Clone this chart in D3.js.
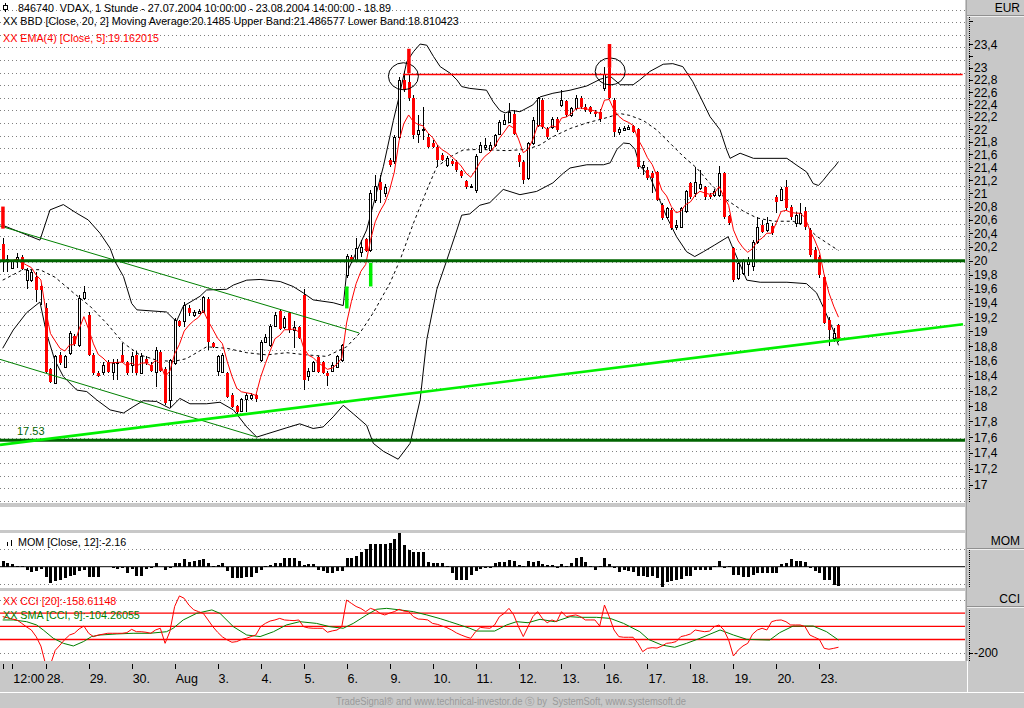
<!DOCTYPE html>
<html>
<head>
<meta charset="utf-8">
<script src="https://cdnjs.cloudflare.com/ajax/libs/d3/7.8.5/d3.min.js"></script>
<style>
html, body { margin: 0; padding: 0; background: #c8c8c8; }
svg { display: block; }
text { font-family: 'Liberation Sans', Arial, sans-serif; white-space: pre; }
.ax { font-family: 'Liberation Sans Narrow', 'Arial Narrow', 'Liberation Sans', sans-serif; }
</style>
</head>
<body>
<div id="chart"></div>
<script>
// VDAX hourly candles, 27.07.2004 10:00 - 23.08.2004 14:00 (9 bars a day, 10:00-18:00)
const opens = [
  20.25,19.99,19.90,20.00,20.05,19.72,19.72,19.76,19.63,19.33,
  18.49,18.31,18.68,18.52,18.70,18.94,18.81,19.46,19.23,18.68,
  18.44,18.45,18.59,18.45,18.57,18.68,18.58,18.54,18.68,18.44,
  18.63,18.54,18.45,18.72,18.49,18.08,18.57,19.14,19.14,19.33,
  19.23,19.26,19.27,19.45,18.84,18.47,18.45,18.43,18.15,18.00,
  17.94,18.09,18.11,18.14,18.61,18.86,18.81,19.08,19.29,19.06,
  19.25,19.02,19.06,19.51,18.39,18.47,18.65,18.58,18.44,18.47,
  18.52,18.61,19.80,20.06,20.01,20.12,20.31,20.16,20.90,21.17,
  21.00,21.52,21.50,21.88,22.80,22.77,22.50,21.93,21.99,21.88,
  21.78,21.72,21.59,21.44,21.50,21.49,21.34,21.19,21.10,21.05,
  21.64,21.72,21.67,21.75,21.93,22.09,22.12,22.25,21.59,21.49,
  21.23,21.78,22.07,22.47,22.01,22.04,22.17,22.39,22.45,22.23,
  22.34,22.50,22.36,22.36,22.28,22.28,22.66,23.00,22.47,21.96,
  21.99,22.00,22.05,22.00,21.40,21.36,21.31,21.33,20.82,20.65,
  20.75,20.50,20.50,20.73,21.16,21.00,21.08,21.10,20.98,20.98,
  20.98,21.31,20.66,20.18,19.75,19.82,19.95,19.92,20.28,20.53,
  20.45,20.51,20.95,20.90,21.10,20.80,20.55,20.55,20.73,20.45,
  20.15,20.06,19.77,19.16,18.91,19.09
];
const highs = [
  20.33,20.08,20.01,20.11,20.08,19.90,19.86,19.84,19.68,19.39,
  18.50,18.68,18.72,18.68,19.00,18.97,19.51,19.64,19.27,18.70,
  18.46,18.59,18.61,18.63,18.63,18.84,18.60,18.72,18.73,18.70,
  18.66,18.58,18.79,18.75,18.52,18.63,19.18,19.16,19.41,19.37,
  19.30,19.31,19.50,19.48,18.86,18.68,18.70,18.45,18.17,18.02,
  18.11,18.17,18.17,18.16,18.88,18.96,19.10,19.27,19.31,19.22,
  19.27,19.14,19.08,19.59,18.50,18.60,18.67,18.60,18.47,18.58,
  18.68,18.83,20.09,20.08,20.33,20.30,20.33,21.05,21.28,21.28,
  21.15,21.55,21.91,22.85,22.95,22.90,22.55,22.23,22.36,21.93,
  21.83,21.75,21.62,21.57,21.53,21.51,21.36,21.21,21.15,21.60,
  21.80,21.86,21.80,21.93,22.15,22.25,22.42,22.30,21.62,21.52,
  21.80,22.20,22.52,22.50,22.03,22.20,22.20,22.64,22.47,22.36,
  22.55,22.53,22.40,22.38,22.31,22.32,23.02,23.03,22.50,22.04,
  22.05,22.06,22.07,22.02,21.50,21.40,21.35,21.35,20.85,20.80,
  20.78,20.60,20.80,21.05,21.18,21.40,21.36,21.12,21.00,21.06,
  21.42,21.33,20.68,20.20,20.00,20.02,20.05,20.30,20.65,20.60,
  20.65,20.55,20.98,21.10,21.20,20.83,20.72,20.85,20.80,20.48,
  20.20,20.08,19.80,19.20,19.05,19.10
];
const lows = [
  19.83,19.83,19.88,19.89,19.86,19.60,19.70,19.41,19.37,18.43,
  18.30,18.30,18.55,18.50,18.68,18.80,18.79,19.44,18.66,18.41,
  18.38,18.41,18.43,18.35,18.35,18.57,18.41,18.43,18.41,18.42,
  18.55,18.45,18.25,18.45,18.02,17.97,18.55,19.06,19.06,19.22,
  19.20,19.24,19.25,18.75,18.77,18.39,18.43,18.10,17.97,17.90,
  17.92,17.92,18.08,18.05,18.58,18.84,18.79,19.06,19.02,19.04,
  18.98,18.77,18.89,18.21,18.33,18.45,18.43,18.42,18.27,18.45,
  18.50,18.59,19.75,19.98,19.98,20.05,20.12,20.12,20.85,20.85,
  20.95,21.40,21.45,21.85,22.60,22.45,21.85,21.78,21.83,21.70,
  21.70,21.41,21.50,21.40,21.42,21.33,21.24,21.07,21.08,21.00,
  21.62,21.67,21.65,21.72,21.90,22.07,22.10,21.90,21.40,21.15,
  21.20,21.75,22.04,22.00,21.85,22.00,21.96,22.36,22.20,22.20,
  22.30,22.33,22.28,22.25,22.20,22.12,22.62,22.48,21.88,21.90,
  21.97,21.98,21.94,21.38,21.28,21.20,21.00,20.88,20.60,20.62,
  20.45,20.45,20.48,20.70,20.92,20.95,21.05,20.90,20.92,20.95,
  20.95,20.62,20.52,19.70,19.72,19.80,19.78,19.85,20.25,20.40,
  20.42,20.38,20.70,20.88,20.75,20.60,20.50,20.52,20.45,20.05,
  19.98,19.75,19.10,18.80,18.85,18.85
];
const closes = [
  20.00,20.02,19.99,20.06,19.88,19.86,19.83,19.58,19.58,18.45,
  18.32,18.66,18.57,18.66,18.98,18.83,19.46,19.55,18.68,18.43,
  18.40,18.54,18.45,18.57,18.59,18.59,18.43,18.66,18.43,18.66,
  18.57,18.47,18.75,18.47,18.04,18.61,19.16,19.08,19.37,19.25,
  19.27,19.29,19.48,18.86,18.79,18.67,18.68,18.12,17.99,17.92,
  18.09,18.15,18.14,18.09,18.86,18.93,19.08,19.23,19.04,19.18,
  19.02,19.06,18.91,18.35,18.47,18.58,18.45,18.44,18.39,18.54,
  18.66,18.81,20.07,20.01,20.18,20.20,20.14,21.00,21.12,21.05,
  21.10,21.44,21.88,22.80,22.64,22.50,21.90,21.99,22.01,21.72,
  21.72,21.52,21.52,21.54,21.45,21.36,21.26,21.09,21.12,21.57,
  21.75,21.75,21.75,21.91,22.12,22.15,22.28,21.93,21.49,21.20,
  21.78,22.15,22.50,22.04,21.88,22.17,21.99,22.47,22.23,22.34,
  22.50,22.36,22.31,22.28,22.25,22.17,22.90,22.50,21.96,22.01,
  22.02,22.04,21.96,21.41,21.44,21.23,21.23,20.90,20.63,20.78,
  20.48,20.52,20.78,21.03,20.95,21.18,21.15,20.95,20.95,21.03,
  21.31,20.65,20.55,19.72,19.96,19.99,19.99,20.28,20.50,20.42,
  20.55,20.40,20.87,21.06,20.78,20.65,20.68,20.70,20.50,20.08,
  20.01,19.80,19.12,19.02,18.98,18.89
];

// Bollinger bands [bar, price]
const bbUpper = [[0,20.52],[7.8,20.3],[9.9,20.75],[12.7,20.83],[15.5,20.7],[17.9,20.6],[20.4,20.4],[22.5,20.18],[23.5,19.99],[25.3,19.77],[27,19.39],[28.1,19.3],[34.3,19.27],[35.7,19.18],[36.4,19.14],[37.8,19.35],[41.3,19.49],[42.7,19.58],[46.9,19.59],[48.3,19.65],[51.1,19.72],[53.9,19.73],[58.1,19.7],[60.8,19.63],[62.9,19.54],[65,19.44],[69.2,19.4],[71.3,19.36],[72,19.82],[76.2,20.45],[79.7,21.41],[81.8,22.14],[82.8,22.46],[84.6,23.1],[86,23.27],[87.4,23.4],[88.8,23.38],[90.2,23.19],[91.6,23.02],[93.7,22.91],[95.1,22.8],[96.1,22.69],[97.8,22.66],[101.3,22.63],[102.7,22.44],[104.1,22.3],[105.2,22.26],[106.6,22.3],[108.3,22.28],[111,22.39],[112.5,22.52],[115.2,22.58],[118.8,22.63],[122.3,22.7],[125.1,22.81],[127.2,22.86],[129.3,22.72],[132,22.72],[133.4,22.8],[135.5,22.94],[138.3,23.06],[140.3,23.07],[142.4,23.02],[144.5,22.77],[146.4,22.47],[148.1,22.2],[150.2,21.99],[151.6,21.67],[152.3,21.54],[154.4,21.62],[157.2,21.54],[164.2,21.54],[166.3,21.43],[168.3,21.33],[169.7,21.15],[170.8,21.12],[171.8,21.2],[173.2,21.33],[174.3,21.42],[175,21.49]];
const bbMiddle = [[0,19.72],[4.2,19.87],[7.8,19.87],[11,19.76],[14.8,19.54],[18.3,19.35],[21.8,19.11],[25.3,18.84],[28.7,18.68],[32.2,18.61],[35.7,18.59],[38.5,18.63],[42.7,18.79],[46.9,18.77],[51.1,18.71],[55.3,18.68],[59.5,18.71],[63.7,18.68],[67.8,18.66],[72,18.79],[74.8,18.98],[77.6,19.26],[81.1,19.68],[83.2,20.01],[86,20.55],[88.8,21.05],[90.9,21.41],[94.3,21.59],[96.4,21.67],[99.9,21.68],[105.5,21.66],[109.7,21.68],[112.5,21.75],[115.2,21.88],[118.8,22.01],[122.3,22.1],[125.8,22.17],[129.3,22.25],[131.3,22.22],[134.1,22.14],[136.9,21.99],[139.7,21.78],[142.5,21.57],[145.3,21.39],[148.1,21.15],[151.6,20.9],[155.1,20.73],[157.9,20.63],[161.4,20.58],[165.5,20.58],[168.3,20.5],[170.4,20.36],[173.2,20.23],[175,20.15]];
const bbLower = [[0,18.77],[2.2,19.02],[5,19.26],[7.8,19.41],[9.2,18.97],[10.9,18.61],[12.7,18.39],[15.5,18.21],[17.6,18.19],[19.7,18.08],[22.5,17.95],[25.3,17.91],[27.3,17.99],[29.4,18.07],[32.2,18.06],[35,17.97],[37.1,18.1],[39.2,18.03],[42.7,18.03],[45.5,18.05],[48.3,17.95],[51.1,17.73],[53.2,17.6],[55.3,17.64],[59.5,17.72],[62.2,17.77],[65,17.71],[67.1,17.73],[69.2,17.86],[71.3,18.01],[73.4,17.9],[76.2,17.75],[77.6,17.52],[79.7,17.42],[82.8,17.32],[85.3,17.52],[87.4,18.08],[88.8,18.89],[90.9,19.59],[93,20.01],[95.1,20.45],[96.1,20.67],[97.8,20.69],[99.9,20.82],[102,20.86],[104.8,21.06],[108.3,20.98],[111.8,21.03],[115.2,21.16],[117.4,21.31],[118.8,21.39],[122.3,21.44],[125.8,21.44],[127.2,21.47],[128.6,21.68],[130,21.78],[131.3,21.77],[132.4,21.68],[133.4,21.42],[135.5,21.26],[139,20.65],[141.1,20.35],[143.2,20.13],[144.9,20.06],[146.7,20.13],[149.1,20.23],[151.9,20.35],[152.6,20.23],[155.8,19.72],[158.6,19.69],[164.2,19.69],[168.3,19.67],[170.4,19.54],[171.8,19.34],[173.9,19.02],[175,18.81]];

// Momentum (12) per bar
const momentum = [
  0.64,0.38,0.27,0.05,0.03,-0.38,-0.57,-0.45,-0.30,-1.21,
  -1.82,-1.59,-1.52,-1.33,-1.06,-0.95,-0.45,-0.38,-1.21,-1.21,
  -1.21,-0.05,-0.05,-0.19,-0.23,-0.11,-0.68,-0.30,-1.06,-1.06,
  -0.23,-0.11,0.38,-0.03,-0.38,-0.19,0.45,0.45,0.83,0.53,
  0.68,0.76,0.83,0.38,0.03,0.19,0.38,-0.45,-1.33,-1.33,
  -1.33,-1.14,-1.14,-0.68,-0.38,0.03,0.19,0.45,0.45,0.95,
  0.95,0.95,0.64,0.19,0.30,0.30,-0.38,-0.45,-0.68,-0.76,
  -0.45,-0.45,1.02,1.02,1.21,1.70,1.97,2.58,2.58,2.58,
  2.58,2.73,3.10,3.86,2.46,1.89,1.70,1.70,1.70,0.57,
  0.45,0.45,0.38,0.05,-0.68,-1.52,-1.52,-1.52,-0.95,-0.45,
  -0.27,-0.11,-0.11,0.45,0.49,0.49,0.76,0.68,0.19,0.03,
  0.68,0.57,0.68,0.30,0.23,0.19,-0.19,0.30,0.08,0.38,
  1.02,1.14,0.57,0.03,-0.38,0.03,1.02,0.30,-0.11,-0.57,
  -0.38,-0.49,-0.64,-1.02,-1.02,-1.14,-1.06,-1.33,-2.27,-1.74,
  -1.63,-1.52,-1.44,-1.06,-1.06,-0.38,-0.38,-0.38,-0.38,0.03,
  0.64,-0.19,0.03,-0.95,-0.95,-1.14,-1.14,-0.95,-0.68,-0.68,
  -0.68,-0.68,-0.68,0.30,0.38,0.83,0.68,0.64,0.49,-0.19,
  -0.49,-0.68,-1.52,-1.52,-2.08,-2.16
];

// CCI (20) per bar
const cci = [
  73,65,55,48,22,-5,-28,-78,-150,-290,
  -290,-182,-142,-100,-66,-53,-20,2,-53,-78,
  -66,-60,-53,-53,-53,-53,-48,-23,-41,-41,
  -45,-53,-28,-15,-129,-40,150,230,212,160,
  125,111,98,48,-3,-45,-80,-103,-121,-116,
  -100,-91,-78,-66,-3,22,40,48,60,48,
  45,43,48,-3,-12,-15,-15,-15,-45,-35,
  -28,-3,199,174,150,135,111,136,124,98,
  86,100,111,129,115,111,73,55,53,48,
  22,15,2,-10,-28,-50,-66,-80,-91,-41,
  -8,-12,-15,10,73,98,136,86,-3,-78,
  -3,73,111,60,27,48,35,111,73,80,
  86,73,48,48,48,2,161,73,-28,-78,
  -83,-83,-83,-129,-192,-167,-162,-165,-150,-129,
  -125,-116,-78,-70,-58,-28,-35,-41,-36,-3,
  10,-28,-104,-225,-180,-149,-129,-60,-28,-15,
  -28,35,45,48,35,10,10,10,-3,-66,
  -83,-100,-167,-174,-167,-158.6
];
// SMA (9) of the CCI, [bar, value]
const cciSma = [[0,48],[2.2,48],[5,35],[7.1,10],[8.5,-28],[10.6,-91],[12.7,-129],[14.8,-149],[16.9,-116],[18.6,-78],[20.4,-66],[23.9,-58],[27.3,-53],[30.8,-53],[34.3,-41],[35.7,-15],[37.8,48],[40.6,98],[43.8,124],[45.5,98],[48.3,-3],[51.1,-66],[53.9,-78],[56.7,-41],[59.4,10],[62.2,35],[65.7,22],[68.5,-3],[71.3,-15],[73.4,22],[76.2,86],[78.3,129],[80.4,136],[83.2,124],[86,111],[88.8,86],[91.6,58],[93.6,35],[95.7,10],[97.8,-15],[99.2,-36],[103,-36],[105.5,10],[107.6,35],[110,27],[112.5,53],[115.6,35],[118.8,73],[120.8,68],[124.3,68],[127.2,60],[130,22],[133.4,-41],[135.2,-99],[138,-142],[140.7,-159],[143.2,-129],[146,-91],[150.2,-28],[153,-66],[155.8,-99],[160.6,-104],[162.7,-48],[165.5,2],[169.7,2],[172.5,-41],[175,-104.3]];

// drawing tools on the price chart
const levelPrices = [20.0, 17.56];
const resistance = {from: 83.8, to: 201, price: 22.89};
const channelLines = [[[-0.57, 20.51], [74.6, 18.98]], [[-0.57, 18.62], [53.2, 17.6]]];
const supportLine = [[-0.57, 17.5], [201.07, 19.1]];
const circleBars = [83.9, 127.2];
const circlePrices = [22.86, 22.94];
const signalBars = [0, 85, 127, 72, 77];
const signalTop = [20.8, 23.32, 23.4, 19.63, 19.97];
const signalBottom = [20.47, 22.91, 23.0, 19.32, 19.63];
const signalBuy = [false, false, false, true, true];

// axis labels
const priceTicks = [23.8, 23.4, 23.2, 23, 22.8, 22.6, 22.4, 22.2, 22, 21.8, 21.6, 21.4, 21.2, 21, 20.8, 20.6, 20.4, 20.2, 20, 19.8, 19.6, 19.4, 19.2, 19, 18.8, 18.6, 18.4, 18.2, 18, 17.8, 17.6, 17.4, 17.2, 17];
const unlabeledTicks = [23.8, 23.2];
const dayBars = [0, 2, 9, 18, 27, 36, 45, 54, 63, 72, 81, 90, 99, 108, 117, 126, 135, 144, 153, 162, 171];
const dayLabels = ['', '12:00', '28.', '29.', '30.', 'Aug', '3.', '4.', '5.', '6.', '9.', '10.', '11.', '12.', '13.', '16.', '17.', '18.', '19.', '20.', '23.'];

const W = 1024, H = 708, plotW = 965;
const RED = '#ff0000', DKGREEN = '#006400', GREEN = '#008000', LIME = '#00f000';

const xs = d3.scaleLinear().domain([0, 201.07]).range([2.7, 963]);
const ys = d3.scaleLog().domain([16.779, 24.159]).range([503, 0]);
const ym = d3.scaleLinear().domain([-2.42, 3.83]).range([588, 533]);
const yc = d3.scaleLinear().domain([-262.9, 267.4]).range([661, 591]);

const svg = d3.select('#chart').append('svg')
  .attr('width', W).attr('height', H);

svg.append('rect').attr('width', W).attr('height', H).attr('fill', '#c8c8c8');

const defs = svg.append('defs');
defs.append('clipPath').attr('id', 'clipMain')
  .append('rect').attr('x', 0).attr('y', 0).attr('width', plotW).attr('height', 503);
defs.append('clipPath').attr('id', 'clipCci')
  .append('rect').attr('x', 0).attr('y', 591).attr('width', plotW).attr('height', 70);

// panels
[[0, 503], [507, 23], [533, 55], [591, 70]].forEach(p => {
  svg.append('rect').attr('x', 0).attr('y', p[0]).attr('width', plotW).attr('height', p[1]).attr('fill', '#fff');
});
svg.append('line').attr('x1', 966.5).attr('x2', 966.5).attr('y1', 0).attr('y2', 661)
  .attr('stroke', '#a0a0a0');
svg.append('line').attr('x1', 0).attr('x2', W).attr('y1', 692.5).attr('y2', 692.5)
  .attr('stroke', '#fff');
svg.append('line').attr('x1', 967.5).attr('x2', 967.5).attr('y1', 661).attr('y2', 692)
  .attr('stroke', '#fff');

// header boxes in the right column
[[0, 'EUR'], [533, 'MOM'], [591, 'CCI']].forEach(h => {
  svg.append('line').attr('x1', 967).attr('x2', W).attr('y1', h[0] + 15.5).attr('y2', h[0] + 15.5).attr('stroke', '#909090');
  svg.append('line').attr('x1', 967).attr('x2', W).attr('y1', h[0] + 16.5).attr('y2', h[0] + 16.5).attr('stroke', '#f0f0f0');
  svg.append('text').attr('class', 'ax').attr('x', 1020).attr('y', h[0] + 12)
    .attr('text-anchor', 'end').attr('font-size', 12).text(h[1]);
});

// ---------- price panel ----------
const main = svg.append('g').attr('clip-path', 'url(#clipMain)');

main.append('g').selectAll('line')
  .data(d3.range(9.5, 502, 12.6))
  .join('line')
  .attr('x1', 0).attr('x2', plotW)
  .attr('y1', d => Math.round(d) + 0.5).attr('y2', d => Math.round(d) + 0.5)
  .attr('stroke', '#808080').attr('stroke-dasharray', '1,3');

const priceLine = d3.line().x(d => xs(d[0])).y(d => ys(d[1]));

main.append('path').attr('d', priceLine(bbUpper)).attr('fill', 'none').attr('stroke', '#000');
main.append('path').attr('d', priceLine(bbLower)).attr('fill', 'none').attr('stroke', '#000');
main.append('path').attr('d', priceLine(bbMiddle)).attr('fill', 'none').attr('stroke', '#000')
  .attr('stroke-dasharray', '3,3');

// candles
const candles = closes.map((c, i) => ({i, o: opens[i], h: highs[i], l: lows[i], c}));
const cg = main.append('g').attr('shape-rendering', 'crispEdges');
cg.selectAll('line').data(candles).join('line')
  .attr('x1', d => Math.round(xs(d.i)) + 0.5).attr('x2', d => Math.round(xs(d.i)) + 0.5)
  .attr('y1', d => ys(d.h)).attr('y2', d => ys(d.l))
  .attr('stroke', '#000');
cg.selectAll('rect').data(candles).join('rect')
  .attr('x', d => d.c >= d.o ? Math.round(xs(d.i)) - 0.5 : Math.round(xs(d.i)) - 1)
  .attr('y', d => Math.round(ys(Math.max(d.o, d.c))) + (d.c >= d.o ? 0.5 : 0))
  .attr('width', d => d.c >= d.o ? 2 : 3)
  .attr('height', d => Math.max(1, Math.round(ys(Math.min(d.o, d.c))) - Math.round(ys(Math.max(d.o, d.c)))))
  .attr('fill', d => d.c >= d.o ? '#fff' : RED)
  .attr('stroke', d => d.c >= d.o ? '#000' : 'none');

// EMA of the closes, period 5
const ema = [];
closes.forEach((c, i) => ema.push(i === 0 ? c : ema[i - 1] + (c - ema[i - 1]) * 2 / 6));
main.append('path').attr('d', priceLine(ema.map((v, i) => [i, v])))
  .attr('fill', 'none').attr('stroke', RED);

// drawing tools
levelPrices.forEach(p => {
  main.append('line').attr('x1', 0).attr('x2', plotW).attr('y1', ys(p)).attr('y2', ys(p))
    .attr('stroke', DKGREEN).attr('stroke-width', 3);
});
channelLines.forEach(l => {
  main.append('path').attr('d', priceLine(l)).attr('stroke', GREEN).attr('fill', 'none');
});
main.append('path').attr('d', priceLine(supportLine)).attr('stroke', LIME)
  .attr('stroke-width', 2.7).attr('fill', 'none');
main.append('line')
  .attr('x1', xs(resistance.from)).attr('x2', xs(resistance.to))
  .attr('y1', ys(resistance.price)).attr('y2', ys(resistance.price))
  .attr('stroke', RED).attr('stroke-width', 1.5);

circleBars.forEach((b, k) => {
  main.append('ellipse').attr('cx', xs(b)).attr('cy', ys(circlePrices[k]))
    .attr('rx', 15).attr('ry', 13.5).attr('fill', 'none').attr('stroke', '#000');
});

signalBars.forEach((b, k) => {
  main.append('rect')
    .attr('x', xs(b) - 1.5).attr('width', 3.5)
    .attr('y', ys(signalTop[k])).attr('height', ys(signalBottom[k]) - ys(signalTop[k]))
    .attr('fill', signalBuy[k] ? LIME : RED);
});

main.append('text').attr('x', 17).attr('y', ys(levelPrices[1]) - 5)
  .attr('font-size', 11).attr('fill', DKGREEN).text('17.53');

// title lines
const icon = svg.append('g').attr('shape-rendering', 'crispEdges');
icon.append('line').attr('x1', 5.5).attr('x2', 5.5).attr('y1', 3).attr('y2', 12).attr('stroke', '#000');
icon.append('rect').attr('x', 3.5).attr('y', 5.5).attr('width', 4).attr('height', 4)
  .attr('fill', '#fff').attr('stroke', '#000');
svg.append('text').attr('x', 18).attr('y', 11.5).attr('font-size', 10.75)
  .text('846740  VDAX, 1 Stunde - 27.07.2004 10:00:00 - 23.08.2004 14:00:00 - 18.89');
svg.append('text').attr('x', 3).attr('y', 24.5).attr('font-size', 10.75)
  .text('XX BBD [Close, 20, 2] Moving Average:20.1485 Upper Band:21.486577 Lower Band:18.810423');
svg.append('text').attr('x', 3).attr('y', 41.5).attr('font-size', 10.75).attr('fill', RED)
  .text('XX EMA(4) [Close, 5]:19.162015');

// price axis
const pa = svg.append('g');
pa.append('line').attr('x1', 969.5).attr('x2', 969.5).attr('y1', 17).attr('y2', 503)
  .attr('stroke', '#000').attr('stroke-dasharray', '1,1');
pa.selectAll('line.t').data(priceTicks).join('line').attr('class', 't')
  .attr('x1', 969).attr('x2', 973)
  .attr('y1', d => Math.round(ys(d)) + 0.5).attr('y2', d => Math.round(ys(d)) + 0.5)
  .attr('stroke', '#000');
pa.selectAll('text').data(priceTicks.filter(d => !unlabeledTicks.includes(d))).join('text')
  .attr('class', 'ax').attr('x', 974).attr('y', d => ys(d) + 4.5).attr('font-size', 12)
  .text(d => String(d).replace('.', ','));

// ---------- momentum panel ----------
svg.append('g').selectAll('line').data([-2, 2]).join('line')
  .attr('x1', 0).attr('x2', plotW)
  .attr('y1', d => Math.round(ym(d)) + 0.5).attr('y2', d => Math.round(ym(d)) + 0.5)
  .attr('stroke', '#808080').attr('stroke-dasharray', '1,3');
svg.append('g').attr('shape-rendering', 'crispEdges')
  .selectAll('rect').data(momentum).join('rect')
  .attr('x', (d, i) => Math.round(xs(i)) - 1).attr('width', 3)
  .attr('y', d => Math.min(ym(0), ym(d))).attr('height', d => Math.abs(ym(d) - ym(0)))
  .attr('fill', '#000');
svg.append('line').attr('x1', 0).attr('x2', plotW).attr('y1', ym(0)).attr('y2', ym(0)).attr('stroke', '#000');
svg.append('rect').attr('x', 7).attr('y', 542).attr('width', 1).attr('height', 4);
svg.append('rect').attr('x', 11).attr('y', 540).attr('width', 1).attr('height', 6);
svg.append('text').attr('x', 18).attr('y', 546).attr('font-size', 10.75).text('MOM [Close, 12]:-2.16');
svg.append('line').attr('x1', 969.5).attr('x2', 969.5).attr('y1', 550).attr('y2', 588)
  .attr('stroke', '#000').attr('stroke-dasharray', '1,1');

// ---------- CCI panel ----------
svg.append('g').selectAll('line').data([-200, 200]).join('line')
  .attr('x1', 0).attr('x2', plotW)
  .attr('y1', d => Math.round(yc(d)) + 0.5).attr('y2', d => Math.round(yc(d)) + 0.5)
  .attr('stroke', '#808080').attr('stroke-dasharray', '1,3');
svg.append('g').selectAll('line').data([100, 0, -100]).join('line')
  .attr('x1', 0).attr('x2', plotW).attr('y1', d => yc(d)).attr('y2', d => yc(d))
  .attr('stroke', RED).attr('stroke-width', 1.3);
const cg2 = svg.append('g').attr('clip-path', 'url(#clipCci)');
const cciLine = d3.line().x(d => xs(d[0])).y(d => yc(d[1]));
cg2.append('path').attr('d', cciLine(cciSma)).attr('fill', 'none').attr('stroke', GREEN);
cg2.append('path').attr('d', cciLine(cci.map((v, i) => [i, v]))).attr('fill', 'none').attr('stroke', RED);
svg.append('text').attr('x', 3).attr('y', 605).attr('font-size', 10.75).attr('fill', RED)
  .text('XX CCI [20]:-158.61148');
svg.append('text').attr('x', 3).attr('y', 619).attr('font-size', 10.75).attr('fill', GREEN)
  .text('XX SMA [CCI, 9]:-104.26055');
svg.append('line').attr('x1', 969.5).attr('x2', 969.5).attr('y1', 610).attr('y2', 661)
  .attr('stroke', '#000').attr('stroke-dasharray', '1,1');
svg.append('line').attr('x1', 969).attr('x2', 973)
  .attr('y1', Math.round(yc(-200)) + 0.5).attr('y2', Math.round(yc(-200)) + 0.5).attr('stroke', '#000');
svg.append('text').attr('class', 'ax').attr('x', 974).attr('y', yc(-200) + 4.5)
  .attr('font-size', 12).text('-200');

// ---------- time axis ----------
const ta = svg.append('g');
ta.selectAll('line').data(dayBars).join('line')
  .attr('x1', d => Math.round(xs(d)) + 0.5).attr('x2', d => Math.round(xs(d)) + 0.5)
  .attr('y1', 664).attr('y2', 669).attr('stroke', '#000');
ta.selectAll('text').data(dayBars).join('text')
  .attr('class', 'ax').attr('x', d => xs(d) + 1).attr('y', 683).attr('font-size', 12.5)
  .text((d, i) => dayLabels[i]);

svg.append('text').attr('x', 336).attr('y', 705).attr('font-size', 10)
  .attr('fill', '#9a9a9a').attr('textLength', 350).attr('lengthAdjust', 'spacingAndGlyphs')
  .text('TradeSignal\u00ae and www.technical-investor.de \u24e2 by  SystemSoft, www.systemsoft.de');
</script>
</body>
</html>
